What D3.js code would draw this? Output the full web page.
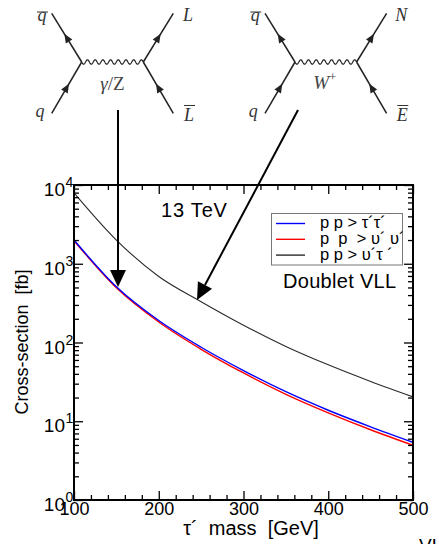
<!DOCTYPE html>
<html><head><meta charset="utf-8">
<script src="https://cdn.jsdelivr.net/npm/d3@7"></script>
<style>body{margin:0;background:#fff}svg{display:block}</style>
</head><body><script>
// Pair-production cross sections of doublet vector-like leptons at 13 TeV (fb)
const massGeV     = [100, 150, 200, 250, 300, 350, 400, 450, 500];
const xsecTauTau  = [2000, 510, 190, 87, 44, 23.7, 13.8, 8.5, 5.4];
const xsecNuNu    = [1960, 495, 182, 82, 41, 22, 12.8, 7.8, 4.95];
const xsecNuTau   = [7950, 2000, 690, 330, 166, 89, 52, 32, 20.4];
const seriesNames = ["p p > τ´τ´", "p  p  > υ´ υ´", "p p > υ´τ ´"];
const seriesColors = ["#0000ff", "#ff0000", "#2a2a2a"];
const xTickLabels = [100, 200, 300, 400, 500];
const yDecades    = [1, 10, 100, 1000, 10000];

const W = 439, H = 544;
const svg = d3.select("body").append("svg")
  .attr("width", W).attr("height", H)
  .style("font-family", "'Liberation Sans', Arial, sans-serif");

const x = d3.scaleLinear().domain([100, 500]).range([74, 413]);
const y = d3.scaleLog().domain([1, 1e4]).range([500, 185]);

// ---- curves ----
const series = [xsecTauTau, xsecNuNu, xsecNuTau];
const line = d3.line().x(d => x(d[0])).y(d => y(d[1])).curve(d3.curveMonotoneX);
const plot = svg.append("g");
// red first, blue on top of it, black last
[1, 0, 2].forEach(i => {
  plot.append("path")
    .datum(massGeV.map((m, k) => [m, series[i][k]]))
    .attr("d", line)
    .attr("fill", "none")
    .attr("stroke", seriesColors[i])
    .attr("stroke-width", i === 2 ? 1.1 : 1.4);
});

// ---- axes with inward ticks on all four sides ----
const xMinor = d3.range(120, 500, 20).filter(v => v % 100 !== 0);
const yMinor = [];
[1, 10, 100, 1000].forEach(d => { for (let k = 2; k <= 9; k++) yMinor.push(k * d); });

function styleAxis(g) {
  g.select(".domain").remove();
  g.selectAll(".tick line").attr("stroke", "#000").attr("stroke-width", 1.3);
}
const axes = svg.append("g");
// bottom
axes.append("g").attr("transform", "translate(0,500)")
  .call(d3.axisBottom(x).tickValues(xTickLabels).tickSizeInner(-9).tickSizeOuter(0)
    .tickPadding(2).tickFormat(d3.format("d")))
  .call(styleAxis)
  .call(g => g.selectAll("text").attr("font-size", 18).attr("fill", "#000")
    .attr("font-family", "'Liberation Sans', Arial, sans-serif"));
axes.append("g").attr("transform", "translate(0,500)")
  .call(d3.axisBottom(x).tickValues(xMinor).tickSizeInner(-5).tickSizeOuter(0).tickFormat(""))
  .call(styleAxis);
// top
axes.append("g").attr("transform", "translate(0,185)")
  .call(d3.axisTop(x).tickValues(xTickLabels).tickSizeInner(-9).tickSizeOuter(0).tickFormat(""))
  .call(styleAxis);
axes.append("g").attr("transform", "translate(0,185)")
  .call(d3.axisTop(x).tickValues(xMinor).tickSizeInner(-5).tickSizeOuter(0).tickFormat(""))
  .call(styleAxis);
// left
const yAxisG = axes.append("g").attr("transform", "translate(74,0)")
  .call(d3.axisLeft(y).tickValues(yDecades).tickSizeInner(-9).tickSizeOuter(0).tickFormat(""))
  .call(styleAxis);
axes.append("g").attr("transform", "translate(74,0)")
  .call(d3.axisLeft(y).tickValues(yMinor).tickSizeInner(-5).tickSizeOuter(0).tickFormat(""))
  .call(styleAxis);
// right
axes.append("g").attr("transform", "translate(413,0)")
  .call(d3.axisRight(y).tickValues(yDecades).tickSizeInner(-9).tickSizeOuter(0).tickFormat(""))
  .call(styleAxis);
axes.append("g").attr("transform", "translate(413,0)")
  .call(d3.axisRight(y).tickValues(yMinor).tickSizeInner(-5).tickSizeOuter(0).tickFormat(""))
  .call(styleAxis);

// power-of-ten labels on the left axis
yAxisG.selectAll(".tick").each(function(d) {
  const g = d3.select(this);
  g.select("text").remove();
  g.append("text").attr("x", -9).attr("y", 10.5).attr("text-anchor", "end")
    .attr("font-size", 19).attr("fill", "#000").text("10");
  g.append("text").attr("x", -8.5).attr("y", 1.5).attr("text-anchor", "start")
    .attr("font-size", 14).attr("fill", "#000").text(Math.round(Math.log10(d)));
});

// frame
svg.append("rect").attr("x", 74).attr("y", 185).attr("width", 413 - 74).attr("height", 500 - 185)
  .attr("fill", "none").attr("stroke", "#000").attr("stroke-width", 2);

// axis titles
svg.append("text").attr("x", 251).attr("y", 535).attr("text-anchor", "middle")
  .attr("font-size", 20).attr("fill", "#000").attr("xml:space", "preserve")
  .text("τ´  mass  [GeV]");
svg.append("text").attr("transform", "translate(28,342) rotate(-90)").attr("text-anchor", "middle")
  .attr("font-size", 18).attr("fill", "#000").attr("xml:space", "preserve")
  .text("Cross-section  [fb]");

// annotations
svg.append("text").attr("x", 161).attr("y", 217).attr("font-size", 20).attr("letter-spacing", 0.8)
  .attr("fill", "#000").text("13 TeV");
svg.append("text").attr("x", 283).attr("y", 288).attr("font-size", 20).attr("letter-spacing", 0.3)
  .attr("fill", "#000").text("Doublet VLL");
svg.append("text").attr("x", 419).attr("y", 552).attr("font-size", 19).attr("fill", "#000").text("VLL");

// legend
const leg = svg.append("g");
leg.append("rect").attr("x", 271.5).attr("y", 213.5).attr("width", 131).attr("height", 51.5)
  .attr("fill", "#fff").attr("stroke", "#777").attr("stroke-width", 1);
seriesNames.forEach((name, i) => {
  const ly = 223.5 + i * 15.8;
  leg.append("line").attr("x1", 276).attr("x2", 305).attr("y1", ly).attr("y2", ly)
    .attr("stroke", seriesColors[i]).attr("stroke-width", 1.4);
  leg.append("text").attr("x", 320).attr("y", ly + 4.5).attr("font-size", 16.5)
    .attr("fill", "#000").attr("xml:space", "preserve").text(name);
});

// ---- Feynman diagrams ----
const fey = svg.append("g").attr("stroke", "#222").attr("fill", "#222");
function arrowHead(g, x0, y0, x1, y1, t) {
  // small filled triangle on segment (x0,y0)->(x1,y1), pointing toward (x1,y1)
  const cx = x0 + (x1 - x0) * t, cy = y0 + (y1 - y0) * t;
  const L = Math.hypot(x1 - x0, y1 - y0), ux = (x1 - x0) / L, uy = (y1 - y0) / L;
  const len = 9, hw = 3.8;
  const tipx = cx + ux * len / 2, tipy = cy + uy * len / 2;
  const bx = cx - ux * len / 2, by = cy - uy * len / 2;
  g.append("path").attr("stroke", "none")
    .attr("d", `M${tipx},${tipy}L${bx - uy * hw},${by + ux * hw}L${bx + uy * hw},${by - ux * hw}Z`);
}
function wavy(g, x0, x1, yy) {
  const n = 8, amp = 2.2, pts = [];
  for (let i = 0; i <= 200; i++) {
    const t = i / 200;
    pts.push([x0 + (x1 - x0) * t, yy + amp * Math.sin(t * n * 2 * Math.PI)]);
  }
  g.append("path").attr("d", d3.line()(pts)).attr("fill", "none").attr("stroke-width", 1.2);
}
function label(g, txt, cx, by, bar, barY) {
  g.append("text").attr("x", cx).attr("y", by).attr("text-anchor", "middle")
    .attr("stroke", "none").attr("fill", "#333")
    .attr("font-family", "'Liberation Serif', 'DejaVu Serif', serif").attr("font-style", "italic")
    .attr("font-size", 18).text(txt);
  if (bar) g.append("line").attr("x1", cx - 5).attr("x2", cx + 6).attr("y1", barY).attr("y2", barY)
    .attr("stroke", "#333").attr("stroke-width", 1);
}
function diagram(ox, names, boson) {
  const g = fey.append("g");
  const vL = [ox + 81.7, 62], vR = [ox + 143.3, 62];
  const tl = [ox + 51.7, 13.3], bl = [ox + 51.7, 113.3], tr = [ox + 173.3, 13.3], br = [ox + 173.3, 113.3];
  [[tl, vL], [bl, vL], [tr, vR], [br, vR]].forEach(([a, b]) =>
    g.append("line").attr("x1", a[0]).attr("y1", a[1]).attr("x2", b[0]).attr("y2", b[1]).attr("stroke-width", 1.5));
  wavy(g, vL[0], vR[0], vL[1]);
  arrowHead(g, vL[0], vL[1], tl[0], tl[1], 0.5);
  arrowHead(g, bl[0], bl[1], vL[0], vL[1], 0.5);
  arrowHead(g, vR[0], vR[1], tr[0], tr[1], 0.5);
  arrowHead(g, br[0], br[1], vR[0], vR[1], 0.5);
  label(g, names[0], ox + 42, 21, true, 12);
  label(g, names[1], ox + 40, 117, false);
  label(g, names[2], ox + 188, 21, false);
  label(g, names[3], ox + 189, 121, true, 105.5);
  boson(g, ox + 112.5);
}
diagram(0, ["q", "q", "L", "L"], (g, cx) => {
  const t = g.append("text").attr("x", cx).attr("y", 90).attr("text-anchor", "middle")
    .attr("stroke", "none").attr("fill", "#444").attr("font-size", 19)
    .attr("font-family", "'Liberation Serif', 'DejaVu Serif', serif");
  t.append("tspan").attr("font-style", "italic").text("γ");
  t.append("tspan").text("/Z");
});
diagram(213.3, ["q", "q", "N", "E"], (g, cx) => {
  const t = g.append("text").attr("x", cx - 1).attr("y", 89).attr("text-anchor", "middle")
    .attr("stroke", "none").attr("fill", "#444").attr("font-size", 19)
    .attr("font-family", "'Liberation Serif', 'DejaVu Serif', serif");
  t.append("tspan").attr("font-style", "italic").text("W");
  t.append("tspan").attr("font-size", 13).attr("dy", -8).text("+");
});

// ---- pointer arrows from the diagrams to the curves ----
function pointer(x0, y0, x1, y1) {
  const L = Math.hypot(x1 - x0, y1 - y0), ux = (x1 - x0) / L, uy = (y1 - y0) / L;
  const len = 17, hw = 8;
  const bx = x1 - ux * len, by = y1 - uy * len;
  svg.append("line").attr("x1", x0).attr("y1", y0).attr("x2", bx).attr("y2", by)
    .attr("stroke", "#000").attr("stroke-width", 2);
  svg.append("path").attr("fill", "#000")
    .attr("d", `M${x1},${y1}L${bx - uy * hw},${by + ux * hw}L${bx + uy * hw},${by - ux * hw}Z`);
}
pointer(118, 110, 118, 287);
pointer(298, 110, 197, 300);
</script></body></html>
